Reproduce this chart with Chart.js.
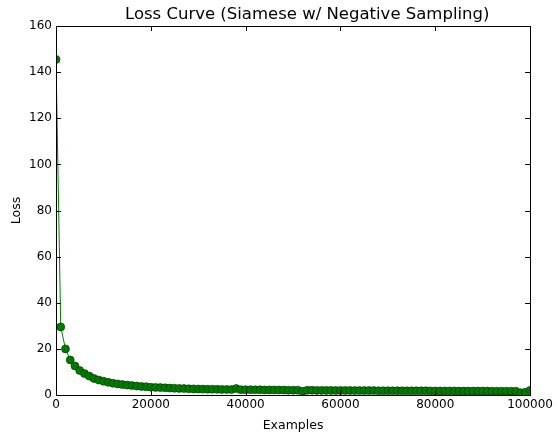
<!DOCTYPE html>
<html>
<head>
<meta charset="utf-8">
<script src="https://cdn.jsdelivr.net/npm/chart.js@4"></script>
<style>
html,body{margin:0;padding:0;background:#fff;}
#wrap{width:556px;height:433px;}
</style>
</head>
<body>
<div id="wrap"><canvas id="c" width="556" height="433"></canvas></div>
<script>
const titleText = "Loss Curve (Siamese w/ Negative Sampling)";
const xLabel = "Examples";
const yLabel = "Loss";
const xTicks = [0, 20000, 40000, 60000, 80000, 100000];
const yTicks = [0, 20, 40, 60, 80, 100, 120, 140, 160];
const examples = [
  0,1000,2000,3000,4000,5000,6000,7000,8000,9000,
  10000,11000,12000,13000,14000,15000,16000,17000,18000,19000,
  20000,21000,22000,23000,24000,25000,26000,27000,28000,29000,
  30000,31000,32000,33000,34000,35000,36000,37000,38000,39000,
  40000,41000,42000,43000,44000,45000,46000,47000,48000,49000,
  50000,51000,52000,53000,54000,55000,56000,57000,58000,59000,
  60000,61000,62000,63000,64000,65000,66000,67000,68000,69000,
  70000,71000,72000,73000,74000,75000,76000,77000,78000,79000,
  80000,81000,82000,83000,84000,85000,86000,87000,88000,89000,
  90000,91000,92000,93000,94000,95000,96000,97000,98000,99000,100000
];
const loss = [
  145.5,29.5,20.0,15.2,12.6,10.6,9.3,8.2,7.2,6.5,
  6.0,5.5,5.1,4.8,4.5,4.3,4.1,3.9,3.7,3.6,
  3.4,3.3,3.2,3.1,3.0,2.9,2.85,2.8,2.7,2.65,
  2.6,2.55,2.5,2.5,2.45,2.4,2.4,2.35,2.8,2.3,
  2.3,2.3,2.25,2.25,2.2,2.2,2.2,2.15,2.15,2.1,
  2.1,2.1,1.6,2.05,2.05,2.0,2.0,2.0,2.0,1.95,
  1.95,1.95,1.95,1.9,1.9,1.9,1.9,1.9,1.85,1.85,
  1.85,1.85,1.85,1.8,1.8,1.8,1.8,1.8,1.8,1.75,
  1.75,1.75,1.75,1.75,1.75,1.7,1.7,1.7,1.7,1.7,
  1.7,1.7,1.65,1.65,1.65,1.65,1.65,1.65,1.0,1.2,2.0
];

const points = examples.map((x, i) => ({x: x, y: loss[i]}));
const FONT = "'DejaVu Sans', sans-serif";

const framePlugin = {
  id: 'frame',
  afterDatasetsDraw(chart) {
    const {ctx, chartArea: a, scales} = chart;
    ctx.save();
    ctx.strokeStyle = '#000';
    ctx.lineWidth = 1;
    const len = 5;
    ctx.beginPath();
    scales.x.ticks.forEach(t => {
      const px = Math.round(scales.x.getPixelForValue(t.value)) + 0.5;
      ctx.moveTo(px, a.bottom); ctx.lineTo(px, a.bottom - len);
      ctx.moveTo(px, a.top); ctx.lineTo(px, a.top + len);
    });
    scales.y.ticks.forEach(t => {
      const py = Math.round(scales.y.getPixelForValue(t.value)) + 0.5;
      ctx.moveTo(a.left, py); ctx.lineTo(a.left + len, py);
      ctx.moveTo(a.right, py); ctx.lineTo(a.right - len, py);
    });
    ctx.stroke();
    ctx.strokeRect(Math.round(a.left) + 0.5, Math.round(a.top) + 0.5,
                   Math.round(a.right - a.left), Math.round(a.bottom - a.top));
    ctx.fillStyle = '#000';
    ctx.font = "16.5px " + FONT;
    ctx.textAlign = 'left';
    ctx.textBaseline = 'middle';
    ctx.fillText(titleText, 125, 15);
    ctx.restore();
  }
};

new Chart(document.getElementById('c'), {
  type: 'line',
  data: {
    datasets: [{
      data: points,
      borderColor: '#008000',
      borderWidth: 1,
      backgroundColor: '#007a00',
      pointBackgroundColor: '#007a00',
      pointBorderColor: '#003300',
      pointBorderWidth: 0.6,
      pointRadius: 4,
      pointHoverRadius: 4,
      tension: 0,
      fill: false
    }]
  },
  options: {
    responsive: false,
    animation: false,
    devicePixelRatio: 1,
    layout: { padding: { left: 0, right: 24, top: 26, bottom: 0 } },
    plugins: {
      legend: { display: false },
      tooltip: { enabled: false },
      title: { display: false }
    },
    scales: {
      x: {
        type: 'linear',
        min: 0, max: 100000,
        afterBuildTicks: s => { s.ticks = xTicks.map(v => ({value: v})); },
        afterFit: s => { s.height = 38; },
        ticks: {
          color: '#000',
          font: { family: FONT, size: 12 },
          padding: 3,
          maxRotation: 0,
          callback: v => String(v)
        },
        grid: { display: false, drawTicks: false },
        border: { display: false },
        title: {
          display: true, text: xLabel, color: '#000',
          font: { family: FONT, size: 12.5 },
          padding: { top: 2, bottom: 0 }
        }
      },
      y: {
        type: 'linear',
        min: 0, max: 160,
        afterBuildTicks: s => { s.ticks = yTicks.map(v => ({value: v})); },
        afterFit: s => { s.width = 56; },
        ticks: {
          color: '#000',
          font: { family: FONT, size: 12 },
          padding: 4,
          callback: v => String(v)
        },
        grid: { display: false, drawTicks: false },
        border: { display: false },
        title: {
          display: true, text: yLabel, color: '#000',
          font: { family: FONT, size: 12.5 },
          padding: { top: 9, bottom: 0 }
        }
      }
    }
  },
  plugins: [framePlugin]
});
</script>
</body>
</html>
